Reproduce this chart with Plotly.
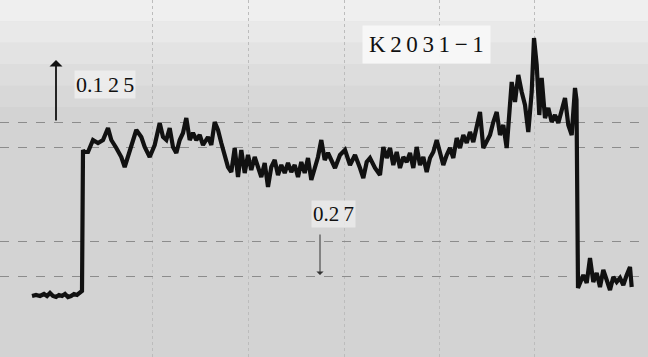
import plotly.graph_objects as go

# Recorder trace K2031-1: time (chart units) and pen deflection (chart units, baseline ~ 4)
t_base = [32, 36, 40, 44, 47, 50, 53, 56, 59, 62, 65, 68, 71, 74, 77, 80, 82]
a_base = [4, 5, 4, 6, 4, 7, 4, 3, 5, 4, 6, 3, 4, 6, 5, 7, 9]

t_high = [83, 84, 88, 93, 98, 103, 108, 111.3, 116.3, 121.3, 124.7, 128, 133, 136.3,
          141.3, 144.7, 149.7, 154.7, 159.7, 163, 166.3, 169.7, 173, 176.3, 179.7, 183,
          186.3, 189.7, 193, 196.3, 199.7, 203, 208, 211.3, 214.7, 218, 221.3, 224.7,
          228, 231.3, 234.7, 238, 241.3, 244.7, 248, 251.3, 254.7, 258, 261.3, 264.7,
          268, 271.3, 274.7, 278, 281.3, 284.7, 288, 291.3, 294.7, 298, 301.3, 304.7,
          308, 311.3, 314.7, 318, 321.3, 324.7, 328,
          330, 335, 340, 345, 350, 355, 360, 363.3, 366.7, 370, 375, 380, 383.3, 386.7,
          390, 393.3, 396.7, 400, 403.3, 406.7, 410, 413.3, 416.7, 420, 423.3, 426.7,
          430, 433.3, 436.7, 440, 443.3, 446.7, 450, 453.3, 456.7, 460, 463.3, 466.7,
          470, 473.3, 476.7, 480, 483.3, 486.7, 490, 493.3, 496.7, 500, 503.3, 506.7,
          510, 511.7, 515, 518.3, 521.7, 525, 528.3, 531.7, 534, 536.7, 539.3, 541.7,
          545, 548.3, 551.7, 555, 558.3, 561.7, 565, 568.3, 571.7, 575, 576.5]
a_high = [150, 148, 148, 160, 157, 160, 172, 160, 152, 143, 133, 143, 160, 170,
          163, 153, 143, 155, 177, 163, 160, 172, 153, 147, 160, 167,
          182, 160, 167, 160, 165, 155, 163, 155, 178, 170, 157, 145,
          133, 128, 152, 123, 150, 127, 145, 130, 143, 133, 123, 137,
          113, 133, 140, 125, 135, 127, 137, 128, 135, 123, 138, 127,
          142, 120, 133, 143, 160, 140, 147,
          142, 132, 145, 150, 135, 145, 132, 122, 138, 142, 132, 125, 153, 142,
          152, 135, 148, 132, 143, 138, 147, 132, 153, 135, 143, 128,
          142, 148, 160, 148, 135, 145, 152, 142, 162, 152, 165, 157,
          168, 158, 172, 188, 152, 158, 165, 178, 188, 165, 175, 152,
          188, 218, 198, 225, 208, 195, 168, 208, 262, 235, 185, 222,
          182, 192, 178, 185, 177, 188, 202, 175, 165, 212, 200]

t_low = [578, 583.3, 586.7, 590, 593.3, 596.7, 600, 603.3, 606.7, 610, 613.3,
         616.7, 620, 623.3, 626.7, 630, 631.7]
a_low = [12, 25, 17, 42, 18, 27, 13, 30, 20, 10, 23, 18, 22, 15, 25, 33, 13]

# Chart-paper rulings
grid_levels = [24, 59, 153, 178]
grid_times = [152, 248, 344, 439, 534]

SERIF = "Liberation Serif, Times New Roman, serif"
INK = "#111111"

t_all = t_base + t_high + t_low
a_all = a_base + a_high + a_low

fig = go.Figure()
fig.add_trace(go.Scatter(
    x=t_all, y=a_all, mode="lines",
    line=dict(color=INK, width=4.2),
    hoverinfo="skip", showlegend=False,
))

# Paper tone: lighter toward the top edge
bands = [(0.0, 0.70, "#d3d3d3"), (0.70, 0.76, "#d8d8d8"), (0.76, 0.82, "#dddddd"),
         (0.82, 0.88, "#e3e3e3"), (0.88, 0.94, "#e9e9e9"), (0.94, 1.0, "#efefef")]
for y0, y1, col in bands:
    fig.add_shape(type="rect", xref="paper", yref="paper", x0=0, x1=1, y0=y0, y1=y1,
                  fillcolor=col, line_width=0, layer="below")

# Sensitivity marks
fig.add_annotation(x=56, y=240, xref="x", yref="y", text="", showarrow=True,
                   ax=0, ay=62, arrowhead=1, arrowsize=1.2, arrowwidth=1.8,
                   arrowcolor=INK)
fig.add_annotation(x=105, y=216, xref="x", yref="y",
                   text="0.1\u20092\u20095", showarrow=False,
                   font=dict(family=SERIF, size=22, color=INK),
                   bgcolor="rgba(240,240,240,0.8)")
fig.add_annotation(x=333, y=86, xref="x", yref="y",
                   text="0.2\u20097", showarrow=False,
                   font=dict(family=SERIF, size=21, color=INK),
                   bgcolor="rgba(236,236,236,0.8)")
fig.add_annotation(x=320, y=25, xref="x", yref="y", text="", showarrow=True,
                   ax=0, ay=-42, arrowhead=1, arrowsize=1.2, arrowwidth=1,
                   arrowcolor="#333333")
fig.add_annotation(x=426, y=256, xref="x", yref="y",
                   text="K\u20092\u20090\u20093\u20091\u2009\u2212\u20091",
                   showarrow=False,
                   font=dict(family=SERIF, size=23, color=INK),
                   bgcolor="rgba(248,248,248,0.95)", borderpad=6)

fig.update_layout(
    width=648, height=357,
    margin=dict(l=0, r=0, t=0, b=0),
    paper_bgcolor="#d6d6d6", plot_bgcolor="rgba(0,0,0,0)",
    xaxis=dict(range=[0, 648], showticklabels=False, zeroline=False,
               tickvals=grid_times, showgrid=True, gridcolor="#bcbcbc",
               griddash="dot", gridwidth=1, showline=False, ticks=""),
    yaxis=dict(range=[-57, 300], showticklabels=False, zeroline=False,
               tickvals=grid_levels, showgrid=True, gridcolor="#8c8c8c",
               griddash="dash", gridwidth=1, showline=False, ticks=""),
)

fig.write_html("out.html")
